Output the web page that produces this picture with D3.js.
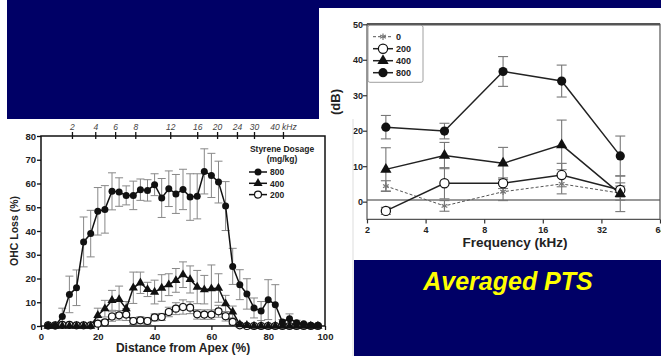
<!DOCTYPE html>
<html>
<head>
<meta charset="utf-8">
<script src="https://cdn.jsdelivr.net/npm/d3@7/dist/d3.min.js"></script>
<style>
  html, body { margin: 0; padding: 0; background: #fff; }
  svg { display: block; font-family: "Liberation Sans", Arial, sans-serif; }
</style>
</head>
<body>
<div class="chart"></div>
<script>
  // ---- data: left chart (OHC loss along the cochlea) ----
  var distance = [2.5, 5, 7.5, 10, 12.5, 15, 17.5, 20, 22.5, 25, 27.5, 30, 32.5, 35, 37.5, 40,
    42.5, 45, 47.5, 50, 52.5, 55, 57.5, 60, 62.5, 65, 67.5, 70, 72.5, 75, 77.5, 80, 82.5, 85,
    87.5, 90, 92.5, 95, 97.5]
  var loss800 = [0, 0, 4, 13.3, 16.1, 35.4, 38.9, 48.3, 49.1, 56.7, 56.4, 55, 55, 57.4, 57.1, 59.5,
    53.9, 57.8, 55.6, 57.5, 54.3, 54.6, 65.1, 63.4, 60.6, 50.5, 25.1, 17.4, 13.5, 7.6, 6.3, 11.1, 9,
    1.7, 3.1, 1.4, 1, 0.3, 0.3]
  var sd800 = [0.5, 0.5, 3.5, 7.7, 7.5, 10.5, 9.8, 10, 10, 7.8, 6, 4, 6, 4.5, 4.5, 4.6,
    8.2, 7.5, 8.2, 8.5, 9.8, 9.5, 9.5, 9.3, 8.8, 10.3, 7.6, 6.3, 6.4, 4.2, 4, 8.4, 8.4,
    1, 2, 1, 0.5, 0.5, 0.5]
  var loss400 = [0, 0, 0, 0, 0, 0, 0, 4.5, 7.3, 10.8, 11.2, 7.3, 16.1, 18.2, 15.4, 14.3,
    16, 17.4, 19.2, 21.6, 19.6, 16.4, 15.3, 15.7, 16, 9.4, 5.9, 0.6, 0.3, 0, 0, 0, 0,
    0, 0, 0, 0, 0, 0]
  var sd400 = [0, 0, 0, 0, 0, 0, 0, 3, 3.5, 4.2, 5.6, 3, 6.6, 4.5, 3, 5,
    5.6, 4.6, 5, 5.4, 5.7, 7, 6, 10, 6, 3.5, 2.5, 0.5, 0, 0, 0, 0, 0,
    0, 0, 0, 0, 0, 0]
  var loss200 = [0.3, 0.3, 0.5, 0.5, 0.3, 0.3, 0.3, 1, 1.5, 4, 4.5, 4.8, 2.1, 2.4, 2.1, 3.6,
    3.8, 5.9, 7.3, 8, 7.7, 4.9, 4.8, 4.8, 6.2, 4.1, 1.7, 0.3, 0, 0, 0, 0, 0,
    0, 0, 0, 0, 0, 0]
  var sd200 = [0, 0, 0, 0, 0, 0, 0, 1, 1, 2, 2, 2.5, 1.5, 1.5, 1.5, 1.5,
    1.5, 2, 2.5, 3, 2.5, 2, 2, 2, 2.5, 2, 1, 0, 0, 0, 0, 0, 0,
    0, 0, 0, 0, 0, 0]
  // frequency place map shown on the top axis (distance %)
  var freqLabels = ['2', '4', '6', '8', '12', '16', '20', '24', '30', '40 kHz']
  var freqPlace = [10.9, 19.1, 26.1, 33.2, 45.5, 55, 62, 69, 75, 85.2]
  var lossTicks = [0, 10, 20, 30, 40, 50, 60, 70, 80]
  var distTicks = [0, 20, 40, 60, 80, 100]

  // ---- data: right chart (averaged PTS) ----
  var freqs = [2.5, 5, 10, 20, 40]
  var pts0 = [4.4, -1.2, 2.8, 5, 2.4]
  var sdPts0 = [1.5, 1.5, 2.5, 2.8, 2]
  var pts200 = [-2.6, 5.2, 5.2, 7.5, 3.3]
  var sdPts200 = [1, 4.4, 1.5, 3.3, 2]
  var pts400 = [9.1, 13, 10.8, 16, 2.2]
  var sdPts400 = [6.1, 3.7, 4.5, 7, 5]
  var pts800 = [21, 19.9, 36.7, 34, 12.9]
  var sdPts800 = [3.3, 2.2, 4.2, 4.5, 5.6]
  var ptsTicks = [0, 10, 20, 30, 40, 50]
  var freqTicks = [2, 4, 8, 16, 32, 64]
  var refLine = 0.5

  var width = 661
  var height = 356
  var navy = '#000066'

  var svg = d3.select('.chart')
    .append('svg')
    .attr('width', width)
    .attr('height', height)

  svg.append('rect').attr('width', width).attr('height', height).attr('fill', '#fff')

  // navy band across the top + box on the top left
  svg.append('path')
    .attr('d', 'M7,0H661V8H319V119H7Z')
    .attr('fill', navy)

  // ================= right chart =================
  var right = svg.append('g')
  right.append('defs').append('clipPath').attr('id', 'clipR')
    .append('rect').attr('x', 319).attr('y', 8).attr('width', 342).attr('height', 252)
  right.attr('clip-path', 'url(#clipR)')

  var xR = d3.scaleLog().base(2).domain([2, 64]).range([367, 660])
  var yR = d3.scaleLinear().domain([-5, 50]).range([219.4, 24.3])

  // gray zero line
  right.append('line')
    .attr('x1', xR(2)).attr('x2', xR(64))
    .attr('y1', yR(refLine)).attr('y2', yR(refLine))
    .attr('stroke', '#999').attr('stroke-width', 2)

  // frame
  right.append('path')
    .attr('d', 'M' + xR(2) + ',' + yR(-5) + 'V' + yR(50) + 'H' + xR(64) + 'V' + yR(-5) + 'Z')
    .attr('fill', 'none').attr('stroke', '#555').attr('stroke-width', 1.2)
  right.append('line')
    .attr('x1', xR(2)).attr('x2', xR(64)).attr('y1', yR(50)).attr('y2', yR(50))
    .attr('stroke', '#555').attr('stroke-width', 2.5)

  var yAxisR = right.append('g')
    .attr('transform', 'translate(' + xR(2) + ',0)')
    .call(d3.axisLeft(yR).tickValues(ptsTicks).tickSize(4).tickSizeOuter(0))
  var xAxisR = right.append('g')
    .attr('transform', 'translate(0,' + yR(-5) + ')')
    .call(d3.axisBottom(xR).tickValues(freqTicks).tickFormat(d3.format('d')).tickSize(4).tickSizeOuter(0))
  ;[yAxisR, xAxisR].forEach(function(ax) {
    ax.select('.domain').remove()
    ax.selectAll('line').attr('stroke', '#333').attr('stroke-width', 1.2)
    ax.selectAll('text').attr('fill', '#222').style('font-size', '9px').style('font-weight', 'bold')
      .style('font-family', '"Liberation Sans", Arial, sans-serif')
  })
  yAxisR.selectAll('text').attr('x', -4)

  right.append('text')
    .attr('x', 515).attr('y', 247)
    .attr('text-anchor', 'middle')
    .style('font-size', '13.5px').style('font-weight', 'bold').attr('fill', '#222')
    .text('Frequency (kHz)')
  right.append('text')
    .attr('transform', 'translate(340,102) rotate(-90)')
    .attr('text-anchor', 'middle')
    .style('font-size', '13px').style('font-weight', 'bold').attr('fill', '#222')
    .text('(dB)')

  var seriesR = [
    { name: '0', vals: pts0, sd: sdPts0, sym: 'star', dash: '3,2' },
    { name: '200', vals: pts200, sd: sdPts200, sym: 'open' },
    { name: '400', vals: pts400, sd: sdPts400, sym: 'tri' },
    { name: '800', vals: pts800, sd: sdPts800, sym: 'dot' }
  ]

  var starType = d3.symbolAsterisk || d3.symbolCross

  function drawMarker(g, sym, x, y, big) {
    var r = big ? 4.6 : 3.5
    if (sym === 'dot') {
      g.append('circle').attr('cx', x).attr('cy', y).attr('r', r).attr('fill', '#111')
    } else if (sym === 'open') {
      g.append('circle').attr('cx', x).attr('cy', y).attr('r', r)
        .attr('fill', '#fff').attr('stroke', '#111').attr('stroke-width', 1.2)
    } else if (sym === 'tri') {
      g.append('path').attr('transform', 'translate(' + x + ',' + y + ')')
        .attr('d', d3.symbol().type(d3.symbolTriangle).size(big ? 55 : 36)())
        .attr('fill', '#111')
    } else {
      g.append('path').attr('transform', 'translate(' + x + ',' + y + ')')
        .attr('d', d3.symbol().type(starType).size(30)())
        .attr('fill', 'none').attr('stroke', '#777').attr('stroke-width', 1.2)
    }
  }

  var lineR = d3.line()
    .x(function(d) { return xR(d[0]) })
    .y(function(d) { return yR(d[1]) })

  // error bars first, then lines, then markers
  seriesR.forEach(function(s) {
    s.vals.forEach(function(v, i) {
      var x = xR(freqs[i])
      var eb = right.append('g').attr('stroke', '#777').attr('stroke-width', 1.1)
      eb.append('line').attr('x1', x).attr('x2', x).attr('y1', yR(v - s.sd[i])).attr('y2', yR(v + s.sd[i]))
      eb.append('line').attr('x1', x - 5).attr('x2', x + 5).attr('y1', yR(v + s.sd[i])).attr('y2', yR(v + s.sd[i]))
      eb.append('line').attr('x1', x - 5).attr('x2', x + 5).attr('y1', yR(v - s.sd[i])).attr('y2', yR(v - s.sd[i]))
    })
  })
  seriesR.forEach(function(s) {
    right.append('path')
      .datum(freqs.map(function(f, i) { return [f, s.vals[i]] }))
      .attr('d', lineR)
      .attr('fill', 'none')
      .attr('stroke', s.dash ? '#555' : '#222')
      .attr('stroke-width', s.dash ? 1 : 1.5)
      .attr('stroke-dasharray', s.dash || null)
  })
  seriesR.forEach(function(s) {
    s.vals.forEach(function(v, i) {
      drawMarker(right, s.sym, xR(freqs[i]), yR(v), true)
    })
  })

  // legend box
  var legR = right.append('g')
  legR.append('rect')
    .attr('x', xR(2) + 1).attr('y', yR(50) + 1).attr('width', 55).attr('height', 57).attr('rx', 2)
    .attr('fill', '#fff').attr('stroke', '#888').attr('stroke-width', 0.8)
  seriesR.forEach(function(s, i) {
    var ly = 36.7 + i * 12
    legR.append('line')
      .attr('x1', 373).attr('x2', 393).attr('y1', ly).attr('y2', ly)
      .attr('stroke', s.dash ? '#555' : '#222').attr('stroke-width', s.dash ? 1 : 1.5)
      .attr('stroke-dasharray', s.dash || null)
    drawMarker(legR, s.sym, 383, ly, true)
    legR.append('text')
      .attr('x', 396).attr('y', ly + 3.2)
      .style('font-size', '9px').style('font-weight', 'bold').attr('fill', '#222')
      .text(s.name)
  })

  // ================= left chart =================
  svg.append('rect')
    .attr('x', 0).attr('y', 119).attr('width', 353).attr('height', 237)
    .attr('fill', '#fff')
  svg.append('line')
    .attr('x1', 353).attr('x2', 353).attr('y1', 119).attr('y2', 356)
    .attr('stroke', '#ddd').attr('stroke-width', 1)

  var left = svg.append('g')
  var xL = d3.scaleLinear().domain([0, 100]).range([41, 325])
  var yL = d3.scaleLinear().domain([0, 80]).range([326, 136])

  left.append('rect')
    .attr('x', xL(0)).attr('y', yL(80)).attr('width', xL(100) - xL(0)).attr('height', yL(0) - yL(80))
    .attr('fill', 'none').attr('stroke', '#111').attr('stroke-width', 1.5)

  var yAxisL = left.append('g')
    .attr('transform', 'translate(' + xL(0) + ',0)')
    .call(d3.axisLeft(yL).tickValues(lossTicks).tickSize(4).tickSizeOuter(0))
  var xAxisL = left.append('g')
    .attr('transform', 'translate(0,' + yL(0) + ')')
    .call(d3.axisBottom(xL).tickValues(distTicks).tickSize(4).tickSizeOuter(0))
  var topAxisL = left.append('g')
    .attr('transform', 'translate(0,' + yL(80) + ')')
    .call(d3.axisTop(xL).tickValues(freqPlace).tickFormat(function(d, i) { return freqLabels[i] })
      .tickSize(4).tickSizeOuter(0))
  ;[yAxisL, xAxisL, topAxisL].forEach(function(ax) {
    ax.select('.domain').remove()
    ax.selectAll('line').attr('stroke', '#111').attr('stroke-width', 1.3)
    ax.selectAll('text').attr('fill', '#222').style('font-size', '9.5px').style('font-weight', 'bold')
      .style('font-family', '"Liberation Sans", Arial, sans-serif')
  })
  // top ticks cross the frame line
  topAxisL.selectAll('line').attr('y2', -4).attr('y1', 3)
  topAxisL.selectAll('text').attr('y', -6)
    .style('font-weight', 'normal').style('font-style', 'italic').style('font-size', '8.5px').attr('fill', '#444')
  yAxisL.selectAll('text').attr('x', -5)
  xAxisL.selectAll('text').attr('y', 7)

  left.append('text')
    .attr('x', xL(50)).attr('y', 352)
    .attr('text-anchor', 'middle')
    .style('font-size', '12px').style('font-weight', 'bold').attr('fill', '#222')
    .text('Distance from Apex (%)')
  left.append('text')
    .attr('transform', 'translate(18,' + yL(40) + ') rotate(-90)')
    .attr('text-anchor', 'middle')
    .style('font-size', '10.5px').style('font-weight', 'bold').attr('fill', '#222')
    .text('OHC Loss (%)')

  var seriesL = [
    { name: '800', vals: loss800, sd: sd800, sym: 'dot' },
    { name: '400', vals: loss400, sd: sd400, sym: 'tri' },
    { name: '200', vals: loss200, sd: sd200, sym: 'open' }
  ]

  var lineL = d3.line()
    .x(function(d) { return xL(d[0]) })
    .y(function(d) { return yL(d[1]) })

  seriesL.forEach(function(s) {
    s.vals.forEach(function(v, i) {
      if (!s.sd[i]) return
      var x = xL(distance[i])
      var eb = left.append('g').attr('stroke', '#888').attr('stroke-width', 1)
      var lo = Math.max(0, v - s.sd[i])
      eb.append('line').attr('x1', x).attr('x2', x).attr('y1', yL(lo)).attr('y2', yL(v + s.sd[i]))
      eb.append('line').attr('x1', x - 4).attr('x2', x + 4).attr('y1', yL(v + s.sd[i])).attr('y2', yL(v + s.sd[i]))
      eb.append('line').attr('x1', x - 4).attr('x2', x + 4).attr('y1', yL(lo)).attr('y2', yL(lo))
    })
  })
  seriesL.forEach(function(s) {
    left.append('path')
      .datum(distance.map(function(d, i) { return [d, s.vals[i]] }))
      .attr('d', lineL)
      .attr('fill', 'none').attr('stroke', '#111').attr('stroke-width', 1.5)
  })
  seriesL.slice().reverse().forEach(function(s) {
    s.vals.forEach(function(v, i) {
      drawMarker(left, s.sym, xL(distance[i]), yL(v), false)
    })
  })

  // legend inside the left chart
  var legL = left.append('g')
  legL.append('text').attr('x', 282).attr('y', 152).attr('text-anchor', 'middle')
    .style('font-size', '8.5px').style('font-weight', 'bold').attr('fill', '#222')
    .text('Styrene Dosage')
  legL.append('text').attr('x', 282).attr('y', 162).attr('text-anchor', 'middle')
    .style('font-size', '8.5px').style('font-weight', 'bold').attr('fill', '#222')
    .text('(mg/kg)')
  seriesL.forEach(function(s, i) {
    var ly = 172 + i * 11.3
    legL.append('line').attr('x1', 249).attr('x2', 267).attr('y1', ly).attr('y2', ly)
      .attr('stroke', '#111').attr('stroke-width', 1.5)
    drawMarker(legL, s.sym, 258, ly, false)
    legL.append('text').attr('x', 270).attr('y', ly + 3.2)
      .style('font-size', '8.5px').style('font-weight', 'bold').attr('fill', '#222')
      .text(s.name)
  })

  // ================= bottom-right caption =================
  svg.append('rect')
    .attr('x', 354).attr('y', 260).attr('width', 307).attr('height', 96)
    .attr('fill', navy)
  svg.append('text')
    .attr('x', 508).attr('y', 290)
    .attr('text-anchor', 'middle')
    .style('font-size', '25px').style('font-weight', 'bold').style('font-style', 'italic')
    .attr('fill', '#ffff00')
    .text('Averaged PTS')
</script>
</body>
</html>
